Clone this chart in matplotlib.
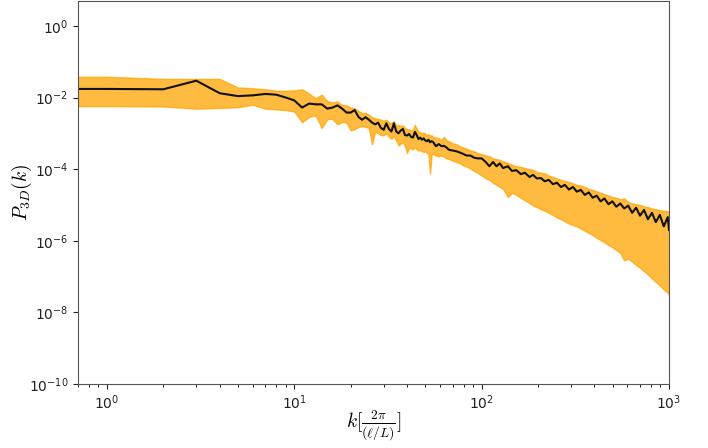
import numpy as np
import matplotlib
matplotlib.use("Agg")
import matplotlib.pyplot as plt
from matplotlib.ticker import NullLocator, LogFormatterMathtext

plt.rcParams["mathtext.fontset"] = "cm"

# wavenumbers
k = [0.5, 1, 2, 3, 4, 5, 6, 7, 8, 9, 10, 11, 12, 13, 14, 15, 16, 17, 18, 19, 20, 21, 22,
     23, 24, 25, 26, 27, 28, 29, 30, 31, 32, 33, 34, 35, 36, 37, 38, 39, 40, 41, 42, 43, 44,
     45, 46, 47, 48, 49, 50, 51, 52, 53, 54, 55, 57, 59, 61, 63, 65, 67, 70, 73, 76, 80, 83,
     87, 91, 95, 100, 105, 110, 115, 120, 125, 130, 138, 145, 153, 162, 170, 180, 188, 197,
     207, 217, 228, 240, 252, 265, 278, 292, 307, 322, 338, 355, 373, 391, 411, 431, 452,
     475, 498, 523, 549, 576, 605, 635, 667, 700, 735, 771, 810, 850, 893, 937, 984, 1000]

# log10 of the mean spectrum
log_p_mean = [-1.76, -1.76, -1.77, -1.53, -1.88, -1.96, -1.94, -1.90, -1.92, -2.00, -2.08,
              -2.28, -2.17, -2.19, -2.19, -2.31, -2.28, -2.22, -2.31, -2.42, -2.42, -2.35, -2.54,
              -2.62, -2.55, -2.62, -2.70, -2.75, -2.70, -2.85, -2.90, -2.72, -2.88, -2.95, -2.72,
              -2.95, -3.00, -2.92, -2.88, -3.05, -3.06, -3.02, -3.10, -3.12, -2.96, -3.05, -3.16,
              -3.12, -3.18, -3.14, -3.20, -3.22, -3.18, -3.25, -3.22, -3.24, -3.36, -3.30, -3.36,
              -3.35, -3.40, -3.46, -3.48, -3.50, -3.53, -3.58, -3.62, -3.62, -3.68, -3.70, -3.70,
              -3.80, -3.92, -3.80, -3.92, -3.84, -3.97, -3.92, -4.05, -4.03, -4.14, -4.10, -4.22,
              -4.16, -4.26, -4.25, -4.34, -4.30, -4.42, -4.38, -4.50, -4.44, -4.57, -4.50, -4.63,
              -4.58, -4.72, -4.65, -4.80, -4.74, -4.90, -4.82, -4.98, -4.90, -5.05, -4.96, -5.10,
              -5.02, -5.22, -5.08, -5.30, -5.14, -5.40, -5.22, -5.48, -5.28, -5.60, -5.34, -5.70]

# log10 of the upper / lower envelope
log_p_hi = [-1.42, -1.42, -1.48, -1.48, -1.48, -1.72, -1.74, -1.77, -1.81, -1.81, -1.80,
            -1.77, -1.89, -2.02, -1.92, -2.10, -2.14, -2.11, -2.21, -2.22, -2.28, -2.30, -2.37,
            -2.44, -2.43, -2.48, -2.55, -2.58, -2.60, -2.62, -2.65, -2.62, -2.70, -2.72, -2.66,
            -2.78, -2.77, -2.80, -2.78, -2.85, -2.88, -2.90, -2.92, -2.90, -2.76, -2.88, -2.95,
            -2.98, -3.00, -2.98, -3.02, -3.05, -3.02, -3.07, -3.05, -3.10, -3.12, -3.14, -3.18,
            -3.10, -3.20, -3.22, -3.28, -3.30, -3.35, -3.40, -3.43, -3.48, -3.50, -3.55, -3.58,
            -3.62, -3.64, -3.70, -3.72, -3.74, -3.78, -3.83, -3.88, -3.92, -3.94, -3.97, -4.00,
            -4.02, -4.08, -4.10, -4.12, -4.18, -4.22, -4.26, -4.30, -4.33, -4.36, -4.40, -4.44,
            -4.46, -4.50, -4.55, -4.58, -4.62, -4.66, -4.70, -4.74, -4.78, -4.80, -4.84, -4.82,
            -4.92, -4.96, -4.98, -5.00, -5.04, -5.06, -5.10, -5.12, -5.15, -5.16, -5.18, -5.20]

log_p_lo = [-2.24, -2.24, -2.25, -2.31, -2.29, -2.27, -2.20, -2.31, -2.33, -2.35, -2.39,
            -2.69, -2.54, -2.50, -2.85, -2.60, -2.60, -2.75, -2.68, -2.70, -2.92, -2.88, -2.82,
            -2.80, -2.82, -2.85, -3.30, -2.95, -3.00, -3.05, -3.05, -3.00, -3.10, -3.15, -3.08,
            -3.20, -3.34, -3.28, -3.25, -3.36, -3.55, -3.40, -3.42, -3.45, -3.38, -3.45, -3.48,
            -3.47, -3.50, -3.52, -3.50, -3.55, -3.60, -4.13, -3.60, -3.58, -3.62, -3.64, -3.62,
            -3.66, -3.70, -3.72, -3.76, -3.80, -3.83, -3.90, -3.93, -3.98, -4.05, -4.10, -4.18,
            -4.25, -4.30, -4.38, -4.44, -4.50, -4.55, -4.78, -4.66, -4.72, -4.80, -4.87, -4.95,
            -5.02, -5.06, -5.12, -5.16, -5.22, -5.28, -5.35, -5.40, -5.46, -5.52, -5.56, -5.60,
            -5.66, -5.72, -5.78, -5.84, -5.92, -5.98, -6.04, -6.12, -6.18, -6.26, -6.34, -6.55,
            -6.50, -6.58, -6.68, -6.76, -6.85, -6.94, -7.05, -7.15, -7.25, -7.36, -7.45, -7.52]

p_mean = 10.0 ** np.array(log_p_mean)
p_hi = 10.0 ** np.array(log_p_hi)
p_lo = 10.0 ** np.array(log_p_lo)

fig = plt.figure(figsize=(7.08, 4.48), dpi=100)
ax = fig.add_axes([0.110, 0.143, 0.835, 0.855])

ax.fill_between(k, p_lo, p_hi, color="orange", alpha=0.75)
ax.plot(k, p_mean, color="#111111", lw=1.5)

ax.set_xscale("log")
ax.set_yscale("log")
ax.set_xlim(0.7, 1000)
ax.set_ylim(1e-10, 5)

ax.set_yticks([1e-10, 1e-8, 1e-6, 1e-4, 1e-2, 1e0])
ax.yaxis.set_major_formatter(LogFormatterMathtext())
ax.yaxis.set_minor_locator(NullLocator())

ax.tick_params(labelsize=10, colors="#222222")
for s in ax.spines.values():
    s.set_color("#555555")

ax.set_xlabel(r"$k[\frac{2\pi}{(\ell/L)}]$", fontsize=14, labelpad=-3)
ax.set_ylabel(r"$P_{3D}(k)$", fontsize=14, labelpad=-4)

fig.savefig("out.png", dpi=100)
